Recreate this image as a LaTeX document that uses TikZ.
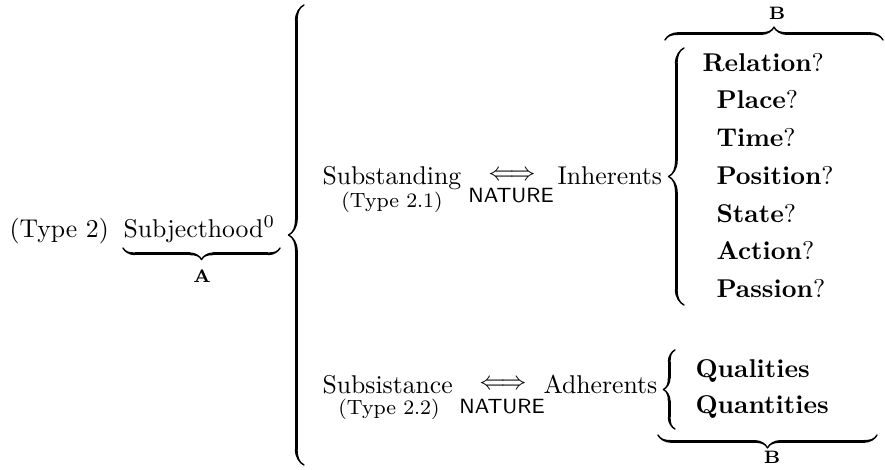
\documentclass[tikz,border=0pt]{standalone}
\usepackage{amsmath,amssymb}
\usetikzlibrary{decorations.pathreplacing,calligraphy}
\tikzset{
  txt/.style={inner sep=0pt, anchor=base west},
  sub/.style={inner sep=0pt, anchor=base, font=\footnotesize},
  nat/.style={inner sep=0pt, anchor=base, font=\footnotesize\sffamily},
  lbl/.style={inner sep=0pt, anchor=base, font=\scriptsize\bfseries},
  brc/.style={decorate, decoration={calligraphic brace, amplitude=#1}, line width=1.1pt},
}

\begin{document}
\begin{tikzpicture}[x=0.389pt,y=-0.389pt]
	\useasboundingbox (0,0) rectangle (885,470);
	% left part
	\node[txt] (type) at (9,237) {(Type 2)};
	\node[txt] (subj) at (123,237) {Subjecthood$^0$};
	\draw[brc=4.5pt] (280,248) -- (123,248);
	\node[lbl] (a) at (202,283) {A};
	\draw[brc=6pt] (304,465) -- (304,5);
	% upper branch
	\node[txt] (stand) at (322,184) {Substanding};
	\node[sub] (t21) at (392,207) {(Type 2.1)};
	\node (iff1) at (512,176) {$\Longleftrightarrow$};
	\node[nat] (nat1) at (511,202) {NATURE};
	\node[txt] (inh) at (557,184) {Inherents};
	\draw[brc=6pt] (684,305) -- (684,48);
	\node[txt] (rel) at (702,71) {\textbf{Relation}?};
	\foreach \w [count=\i] in {Place,Time,Position,State,Action,Passion}
		\node[txt] (cat\i) at (716,{71+37.8*\i}) {\textbf{\w}?};
	\draw[brc=5pt] (665,40) -- (883,40);
	\node[lbl] (b1) at (777,20) {B};
	% lower branch
	\node[txt] (sist) at (322,393) {Subsistance};
	\node[sub] (t22) at (389,415) {(Type 2.2)};
	\node (iff2) at (503,385) {$\Longleftrightarrow$};
	\node[nat] (nat2) at (502,413) {NATURE};
	\node[txt] (adh) at (543,393) {Adherents};
	\draw[brc=4.5pt] (675,429) -- (675,350);
	\node[txt] (qual) at (695,377) {\textbf{Qualities}};
	\node[txt] (quan) at (695,413) {\textbf{Quantities}};
	\draw[brc=5pt] (877,435) -- (658,435);
	\node[lbl] (b2) at (772,463) {B};
\end{tikzpicture}
\end{document}
